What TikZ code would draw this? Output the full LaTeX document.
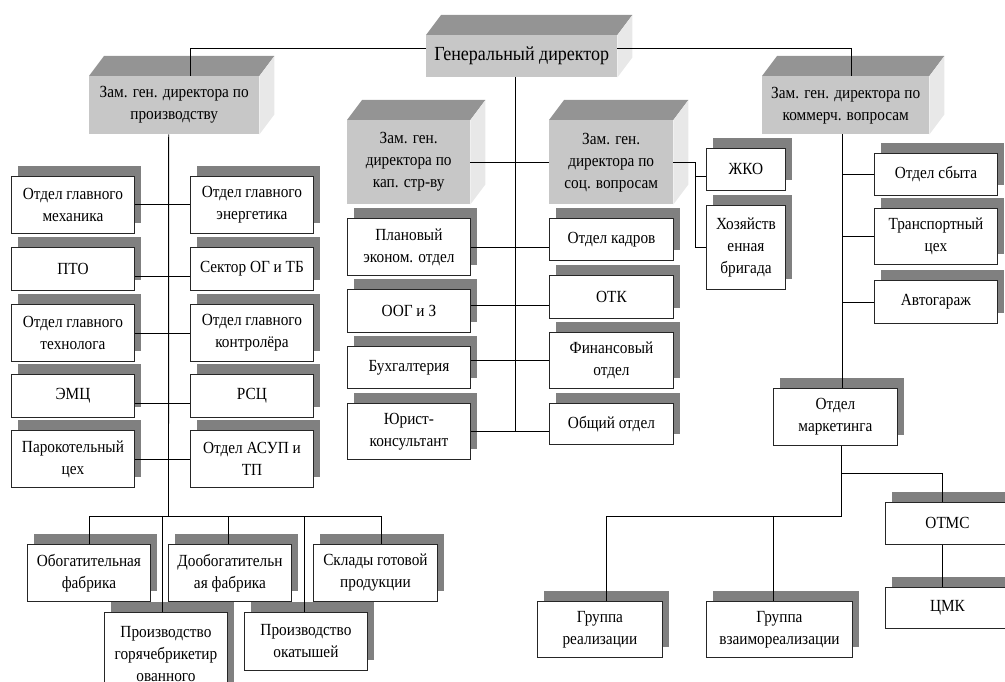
\documentclass[tikz,border=0pt]{standalone}
\usepackage{fontspec}
\setmainfont{Liberation Serif}[FakeStretch=0.9]
\usetikzlibrary{shadows}

\tikzset{
  unit/.style={draw=black!85, line width=0.9pt, fill=white, anchor=north west,
    align=center, inner sep=0pt, minimum width=123pt, minimum height=57pt,
    font=\fontsize{17}{22}\selectfont,
    drop shadow={shadow xshift=7pt, shadow yshift=10pt, fill=black!50, opacity=1}},
  lowunit/.style={unit, minimum height=43pt},
  chief/.style={fill=black!22, anchor=north west, align=center, inner sep=0pt,
    font=\fontsize{17}{22}\selectfont},
  topface/.style={fill=black!42},
  sideface/.style={fill=black!9},
  link/.style={draw=black, line width=0.9pt}
}

\begin{document}
\begin{tikzpicture}[x=1pt, y=-1pt]
          \useasboundingbox (0,0) rectangle (1005,682);
          \clip (0,0) rectangle (1005,682);
          % heads
            \node[chief, minimum width=191pt, minimum height=42pt, font=\fontsize{20}{24}\selectfont] (gd) at (426,35) {Генеральный директор};
            \node[chief, minimum width=170pt, minimum height=58pt] (zp) at (89,76) {Зам. ген. директора по\\производству};
            \node[chief, minimum width=123pt, minimum height=84pt] (zk) at (347,120) {Зам. ген.\\директора по\\кап. стр-ву};
            \node[chief, minimum width=124pt, minimum height=84pt] (zs) at (549,120) {Зам. ген.\\директора по\\соц. вопросам};
            \node[chief, minimum width=167pt, minimum height=58pt] (zc) at (762,76) {Зам. ген. директора по\\коммерч. вопросам};
            \foreach \n in {gd, zp, zk, zs, zc} {
              \fill[topface] (\n.north west) -- ++(15,-20) -- ([shift={(15,-20)}]\n.north east) -- (\n.north east) -- cycle;
              \fill[sideface] (\n.north east) -- ++(15,-20) -- ([shift={(15,-20)}]\n.south east) -- (\n.south east) -- cycle;
            }
          % production column
            \node[unit] (mech) at (11,176) {Отдел главного\\механика};
            \node[unit] (energ) at (190,176) {Отдел главного\\энергетика};
            \node[lowunit] (pto) at (11,247) {ПТО};
            \node[lowunit] (sektor) at (190,247) {Сектор ОГ и ТБ};
            \node[unit] (tech) at (11,304) {Отдел главного\\технолога};
            \node[unit] (kontr) at (190,304) {Отдел главного\\контролёра};
            \node[lowunit] (emc) at (11,374) {ЭМЦ};
            \node[lowunit] (rsc) at (190,374) {РСЦ};
            \node[unit] (parok) at (11,430) {Парокотельный\\цех};
            \node[unit] (asup) at (190,430) {Отдел АСУП и\\ТП};
          % plants
            \node[unit] (obog) at (27,544) {Обогатительная\\фабрика};
            \node[unit] (doob) at (168,544) {Дообогатительн\\ая фабрика};
            \node[unit, minimum width=124pt] (sklad) at (313,544) {Склады готовой\\продукции};
            \node[unit, minimum height=84pt] (gor) at (104,612) {Производство\\горячебрикетир\\ованного};
            \node[unit, minimum height=58pt] (okat) at (244,612) {Производство\\окатышей};
          % middle columns
            \node[unit] (plan) at (347,218) {Плановый\\эконом. отдел};
            \node[lowunit] (oog) at (347,289) {ООГ и З};
            \node[unit, minimum height=42pt] (buh) at (347,346) {Бухгалтерия};
            \node[unit, minimum height=56pt] (urist) at (347,403) {Юрист-\\консультант};
            \node[unit, minimum width=124pt, minimum height=42pt] (kadr) at (549,218) {Отдел кадров};
            \node[lowunit, minimum width=124pt] (otk) at (549,275) {ОТК};
            \node[unit, minimum width=124pt, minimum height=56pt] (fin) at (549,332) {Финансовый\\отдел};
            \node[unit, minimum width=124pt, minimum height=41pt] (obsh) at (549,403) {Общий отдел};
            \node[unit, minimum width=79pt, minimum height=42pt] (zhko) at (706,148) {ЖКО};
            \node[unit, minimum width=79pt, minimum height=84pt] (hoz) at (706,205) {Хозяйств\\енная\\бригада};
          % commerce
            \node[unit, minimum height=42pt] (sbyt) at (874,153) {Отдел сбыта};
            \node[unit, minimum height=56pt] (trans) at (874,208) {Транспортный\\цех};
            \node[lowunit] (avto) at (874,280) {Автогараж};
            \node[unit, minimum width=124pt] (mark) at (773,388) {Отдел\\маркетинга};
            \node[unit, minimum width=124pt, minimum height=42pt] (otms) at (885,502) {ОТМС};
            \node[unit, minimum width=124pt, minimum height=41pt] (cmk) at (885,587) {ЦМК};
            \node[unit, minimum width=125pt, minimum height=56pt] (grr) at (537,601) {Группа\\реализации};
            \node[unit, minimum width=146pt, minimum height=56pt] (grv) at (706,601) {Группа\\взаимореализации};
          % top links
            \draw[link] ([yshift=7.5pt]gd.west) -| ([xshift=16.5pt]zp.north);
            \draw[link] ([yshift=7.5pt]gd.east) -| ([xshift=6pt]zc.north);
            \coordinate (mtrunk) at ([xshift=-6pt]gd.south);
            \draw[link] (mtrunk) -- (mtrunk |- urist.east);
            \foreach \a/\b/\s in {zk/zs/0pt, plan/kadr/0pt, oog/otk/6pt, buh/fin/7pt, urist/obsh/0pt} {
              \coordinate (l) at ([yshift=\s]\a.east);
              \draw[link] (l) -- (l -| \b.west);
            }
            \coordinate (sfork) at ([xshift=-11pt]hoz.west);
            \draw[link] (zs.east) -| (sfork) -- (hoz.west);
            \coordinate (zl) at ([yshift=-7pt]zhko.west);
            \draw[link] (zl) -- (zl -| sfork);
          % production links
            \coordinate (ptrunk) at ([xshift=-5.5pt]zp.south);
            \coordinate (pbus) at (168.5,516.5);
            \draw[link] (ptrunk) -- (pbus);
            \foreach \a/\b/\s in {mech/energ/0pt, pto/sektor/-7pt, tech/kontr/0pt, emc/rsc/-7pt, parok/asup/0pt} {
              \coordinate (l) at ([yshift=\s]\a.east);
              \draw[link] (l) -- (l -| \b.west);
            }
            \coordinate (skl) at ([xshift=6pt]sklad.north);
            \draw[link] (obog.north) |- (pbus) -| (skl);
            \foreach \n/\d in {gor/-4pt, doob/-2pt, okat/-2pt} {
              \coordinate (t) at ([xshift=\d]\n.north);
              \draw[link] (t) -- (t |- pbus);
            }
          % commerce links
            \coordinate (ctrunk) at ([xshift=-3pt]zc.south);
            \draw[link] (ctrunk) -- (ctrunk |- mark.north);
            \foreach \n in {sbyt, trans, avto} {
              \draw[link] (\n.west) -- (\n.west -| ctrunk);
            }
            \coordinate (mk) at ([xshift=6pt]mark.south);
            \coordinate (mfork) at ([yshift=-28pt]mk);
            \coordinate (mbus) at ([yshift=-71pt]mk);
            \draw[link] (mk) -- (mbus);
            \coordinate (om) at ([xshift=-5pt]otms.north);
            \draw[link] (mfork) -| (om);
            \coordinate (gr) at ([xshift=6pt]grr.north);
            \coordinate (gv) at ([xshift=-6pt]grv.north);
            \draw[link] (gr) |- (mbus);
            \draw[link] (gv) -- (gv |- mbus);
            \coordinate (ob) at ([xshift=-5pt]otms.south);
            \draw[link] (ob) -- (ob |- cmk.north);
\end{tikzpicture}
\end{document}
